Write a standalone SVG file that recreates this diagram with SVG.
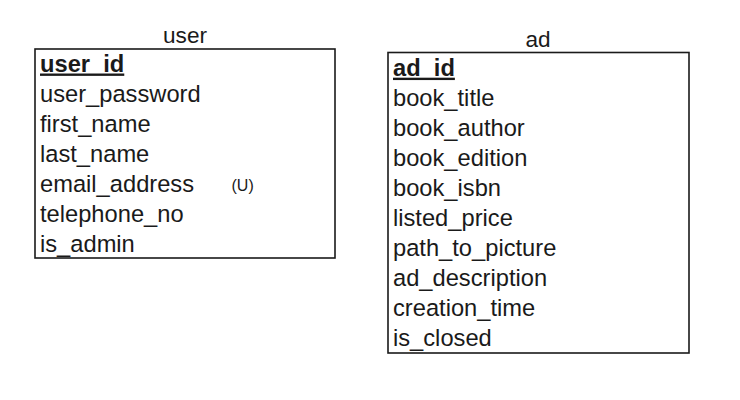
<svg xmlns="http://www.w3.org/2000/svg" width="740" height="400" viewBox="0 0 740 400">
<style>
.t{font-family:"Liberation Sans",Arial,sans-serif;font-size:23.7px;fill:#1a1a1a}
.title{font-family:"Liberation Sans",Arial,sans-serif;font-size:22.6px;fill:#1a1a1a;text-anchor:middle}
.pk{font-weight:bold;text-decoration:underline}
.box{fill:#fff;stroke:#1a1a1a;stroke-width:1.6}
.small{font-family:"Liberation Sans",Arial,sans-serif;font-size:16px;fill:#1a1a1a}
</style>
<rect width="740" height="400" fill="#fff"/>
<g id="user">
<text class="title" x="185" y="42.5">user</text>
<rect class="box" x="35" y="49" width="300" height="209"/>
<text class="t pk" x="40" y="71.5">user_id</text>
<text class="t" x="40" y="101.5">user_password</text>
<text class="t" x="40" y="131.5">first_name</text>
<text class="t" x="40" y="161.5">last_name</text>
<text class="t" x="40" y="191.5">email_address</text>
<text class="small" x="231.5" y="190.5">(U)</text>
<text class="t" x="40" y="221.5">telephone_no</text>
<text class="t" x="40" y="251.5">is_admin</text>
</g>
<g id="ad">
<text class="title" x="538" y="46.7">ad</text>
<rect class="box" x="388" y="52.5" width="301" height="300.5"/>
<text class="t pk" x="393" y="75.7">ad_id</text>
<text class="t" x="393" y="105.7">book_title</text>
<text class="t" x="393" y="135.7">book_author</text>
<text class="t" x="393" y="165.7">book_edition</text>
<text class="t" x="393" y="195.7">book_isbn</text>
<text class="t" x="393" y="225.7">listed_price</text>
<text class="t" x="393" y="255.7">path_to_picture</text>
<text class="t" x="393" y="285.7">ad_description</text>
<text class="t" x="393" y="315.7">creation_time</text>
<text class="t" x="393" y="345.7">is_closed</text>
</g>
<g id="connectors"></g>
</svg>
